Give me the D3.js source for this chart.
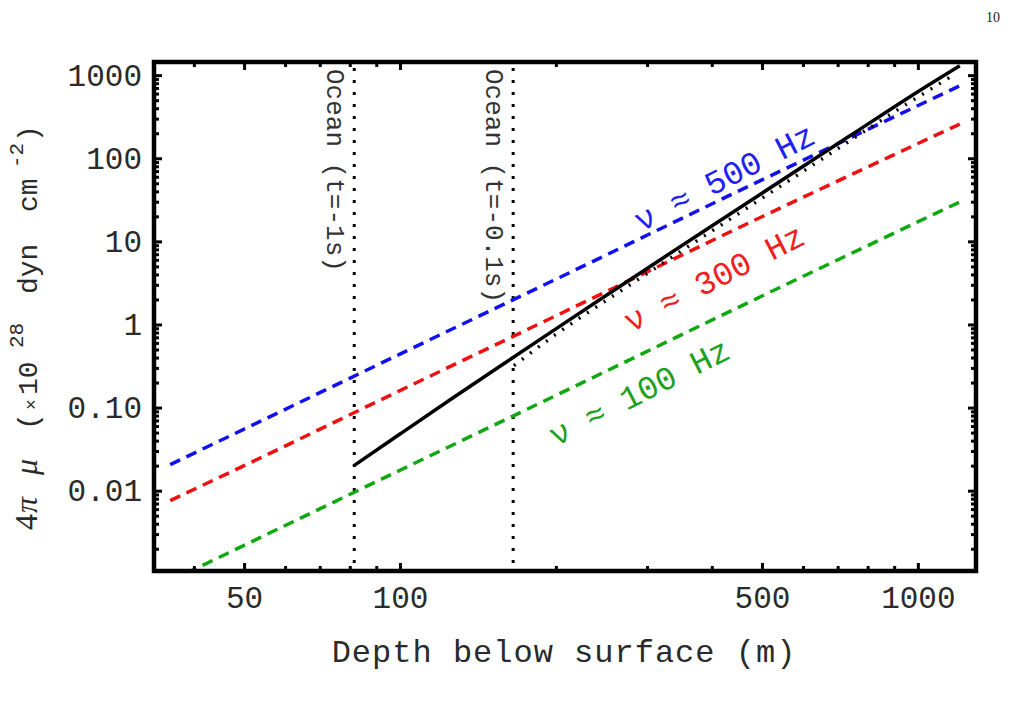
<!DOCTYPE html>
<html>
<head>
<meta charset="utf-8">
<script src="https://cdn.jsdelivr.net/npm/d3@7"></script>
<style>
  body { margin: 0; background: #fff; }
  svg { display: block; }
  text { font-family: "Liberation Mono", "DejaVu Sans Mono", monospace; }
</style>
</head>
<body>
<svg id="chart" width="1010" height="701"></svg>
<script>
var lineDepths = [36, 50, 100, 200, 500, 1205];
var mu500 = [0.0206, 0.055, 0.44, 3.5, 55, 745];
var mu300 = [0.0076, 0.020, 0.16, 1.27, 19.8, 258];
var mu100 = [0.00082, 0.0022, 0.0176, 0.14, 2.2, 29.8];

// solid black curve
var curveDepths = [81.5, 100, 125, 156, 200, 250, 327, 400, 500, 738, 1000, 1205];
var curveMu = [0.020, 0.048, 0.124, 0.314, 0.885, 2.23, 6.72, 15.3, 38, 185, 633, 1300];

// dotted black curve
var dotDepths = [166, 200, 250, 300, 400, 500, 700, 900, 1150];
var dotMu = [0.32, 0.76, 1.94, 4.1, 13.3, 33, 130, 360, 935];

// ocean depth markers
var oceanDepths = [81.6, 165.4];
var oceanLabels = ["Ocean (t=-1s)", "Ocean (t=-0.1s)"];

var freqLabels = ["\u03bd \u2248 500 Hz", "\u03bd \u2248 300 Hz", "\u03bd \u2248 100 Hz"];

var xMajor = [50, 100, 500, 1000];
var xMinor = [40, 60, 70, 80, 90, 200, 300, 400, 600, 700, 800, 900];
var yMajor = [0.01, 0.1, 1, 10, 100, 1000];
var yMajorLabels = ["0.01", "0.10", "1", "10", "100", "1000"];

var svg = d3.select("#chart");

var pLeft = 154, pRight = 976, pTop = 62, pBottom = 571;

var x = d3.scaleLog().domain([33.5, 1295]).range([pLeft, pRight]);
var y = d3.scaleLog().domain([0.00108, 1440]).range([pBottom, pTop]);

//minor y ticks, 2..9 in each decade
var yMinor = [];
[0.001, 0.01, 0.1, 1, 10, 100, 1000].forEach(function (p) {
  for (var k = 2; k < 10; k++) {
    var v = p * k;
    if (v > y.domain()[0] && v < y.domain()[1]) yMinor.push(v);
  }
});

svg.append("defs").append("clipPath").attr("id", "plotclip")
  .append("rect")
  .attr("x", pLeft).attr("y", pTop)
  .attr("width", pRight - pLeft).attr("height", pBottom - pTop);

var plot = svg.append("g").attr("clip-path", "url(#plotclip)");

var line = d3.line()
  .x(function (d) { return x(d[0]); })
  .y(function (d) { return y(d[1]); })
  .curve(d3.curveMonotoneX);

var zip = function (a, b) {
  return a.map(function (v, i) { return [v, b[i]]; });
};

//vertical ocean lines
plot.selectAll(".ocean")
  .data(oceanDepths)
  .enter()
  .append("line")
  .attr("x1", function (d) { return x(d); })
  .attr("x2", function (d) { return x(d); })
  .attr("y1", pTop + 6)
  .attr("y2", pBottom)
  .style("stroke", "#000")
  .style("stroke-width", 3)
  .style("stroke-dasharray", "3,9");

//dashed frequency lines
var dashed = [
  { vals: mu500, color: "#1010f0" },
  { vals: mu300, color: "#f01010" },
  { vals: mu100, color: "#10a810" }
];
dashed.forEach(function (s) {
  plot.append("path")
    .attr("d", line(zip(lineDepths, s.vals)))
    .style("fill", "none")
    .style("stroke", s.color)
    .style("stroke-width", 3.5)
    .style("stroke-dasharray", "11,7");
});

plot.append("path")
  .attr("d", line(zip(dotDepths, dotMu)))
  .style("fill", "none")
  .style("stroke", "#000")
  .style("stroke-width", 3.5)
  .style("stroke-dasharray", "2,8");

plot.append("path")
  .attr("d", line(zip(curveDepths, curveMu)))
  .style("fill", "none")
  .style("stroke", "#000")
  .style("stroke-width", 3.5);

//axes: inward ticks on all four sides
var styleAxis = function (g, width) {
  g.select(".domain").remove();
  g.selectAll(".tick line").style("stroke", "#000").style("stroke-width", width);
  g.selectAll(".tick text")
    .style("font-family", "'Liberation Mono', monospace")
    .style("font-size", "31px")
    .style("fill", "#2a2a2a");
};

svg.append("g").attr("transform", "translate(0," + pBottom + ")")
  .call(d3.axisBottom(x).tickValues(xMajor).tickSize(-8).tickPadding(15).tickFormat(d3.format("d")))
  .call(styleAxis, 3);
svg.append("g").attr("transform", "translate(0," + pBottom + ")")
  .call(d3.axisBottom(x).tickValues(xMinor).tickSize(-5).tickFormat(""))
  .call(styleAxis, 3);
svg.append("g").attr("transform", "translate(0," + pTop + ")")
  .call(d3.axisTop(x).tickValues(xMajor).tickSize(-8).tickFormat(""))
  .call(styleAxis, 3);
svg.append("g").attr("transform", "translate(0," + pTop + ")")
  .call(d3.axisTop(x).tickValues(xMinor).tickSize(-5).tickFormat(""))
  .call(styleAxis, 3);

svg.append("g").attr("transform", "translate(" + pLeft + ",0)")
  .call(d3.axisLeft(y).tickValues(yMajor).tickSize(-8).tickPadding(12)
    .tickFormat(function (d, i) { return yMajorLabels[i]; }))
  .call(styleAxis, 3);
svg.append("g").attr("transform", "translate(" + pLeft + ",0)")
  .call(d3.axisLeft(y).tickValues(yMinor).tickSize(-5).tickFormat(""))
  .call(styleAxis, 3);
svg.append("g").attr("transform", "translate(" + pRight + ",0)")
  .call(d3.axisRight(y).tickValues(yMajor).tickSize(-8).tickFormat(""))
  .call(styleAxis, 3);
svg.append("g").attr("transform", "translate(" + pRight + ",0)")
  .call(d3.axisRight(y).tickValues(yMinor).tickSize(-5).tickFormat(""))
  .call(styleAxis, 3);

//frame
svg.append("rect")
  .attr("x", pLeft).attr("y", pTop)
  .attr("width", pRight - pLeft).attr("height", pBottom - pTop)
  .style("fill", "none")
  .style("stroke", "#000")
  .style("stroke-width", 4.5);

//ocean labels, reading downward
svg.selectAll(".oceanlabel")
  .data(oceanDepths)
  .enter()
  .append("text")
  .attr("transform", function (d) { return "translate(" + (x(d) - 27) + "," + (pTop + 7) + ") rotate(90)"; })
  .style("font-size", "26px")
  .style("fill", "#333")
  .style("white-space", "pre")
  .text(function (d, i) { return oceanLabels[i]; });

//frequency labels along the lines
var labelSpots = [
  { depth: 292, mu: 12.9, color: "#2020f0" },
  { depth: 279, mu: 0.79, color: "#f02020" },
  { depth: 200, mu: 0.0335, color: "#20a020" }
];
labelSpots.forEach(function (s, i) {
  svg.append("text")
    .attr("transform", "translate(" + x(s.depth) + "," + y(s.mu) + ") rotate(-27)")
    .style("font-size", "33px")
    .style("fill", s.color)
    .style("white-space", "pre")
    .text(freqLabels[i]);
});

//axis titles
svg.append("text")
  .attr("x", (pLeft + pRight) / 2 - 1)
  .attr("y", 662)
  .attr("text-anchor", "middle")
  .style("font-size", "32px")
  .style("letter-spacing", "1px")
  .style("fill", "#2a2a2a")
  .text("Depth below surface (m)");

// y title pieces, placed along the rotated baseline
var ytitleParts = [
  { t: "4", at: 0, serif: true },
  { t: "\u03c0", at: 17, serif: true, italic: true },
  { t: "\u03bc", at: 55, serif: true, italic: true },
  { t: "(", at: 100 },
  { t: "\u00d7", at: 120, size: 18 },
  { t: "10", at: 135 },
  { t: "28", at: 182, size: 21, up: 14 },
  { t: "dyn", at: 236 },
  { t: "cm", at: 318 },
  { t: "-2", at: 362, size: 21, up: 14 },
  { t: ")", at: 388 }
];
var ytitle = svg.append("g").attr("transform", "translate(37,530) rotate(-90)");
ytitleParts.forEach(function (p) {
  ytitle.append("text")
    .attr("x", p.at)
    .attr("y", p.up ? -p.up : 0)
    .style("font-family", p.serif ? "'Liberation Serif', serif" : "'Liberation Mono', monospace")
    .style("font-style", p.italic ? "italic" : "normal")
    .style("font-size", (p.size || (p.serif ? 32 : 28)) + "px")
    .style("fill", "#2a2a2a")
    .text(p.t);
});

//page number
svg.append("text")
  .attr("x", 1000).attr("y", 22)
  .attr("text-anchor", "end")
  .style("font-family", "'Liberation Serif', serif")
  .style("font-size", "14px")
  .style("fill", "#222")
  .text("10");
</script>
</body>
</html>
